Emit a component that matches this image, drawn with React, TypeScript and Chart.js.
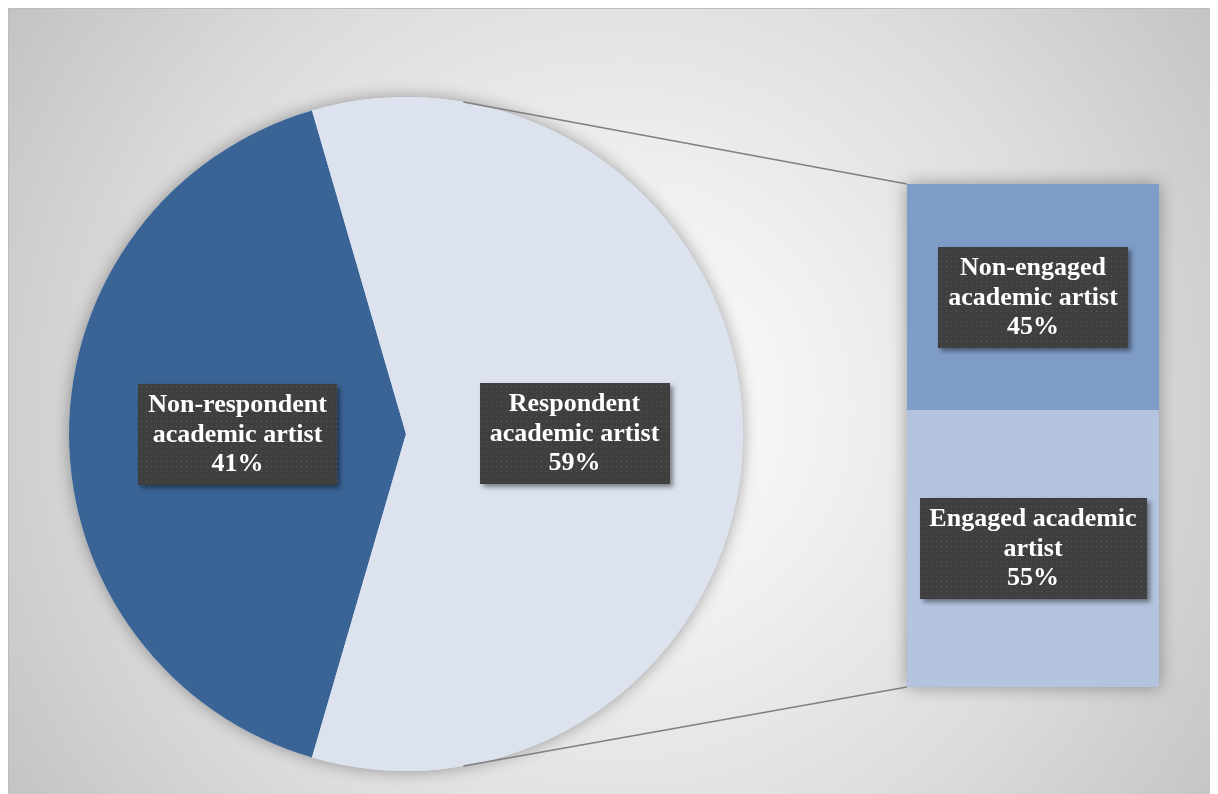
import React, { useEffect, useRef } from "react";
import { Chart, registerables } from "chart.js";
Chart.register(...registerables);

// ---- data ----
const pieCategories = ["Non-respondent academic artist", "Respondent academic artist"];
const pieValues = [41, 59];
const pieLabelLines = [["Non-respondent", "academic artist"], ["Respondent", "academic artist"]];

const barCategories = ["Engaged academic artist", "Non-engaged academic artist"];
const barValues = [55, 45];
const barLabelLines = [["Engaged academic", "artist"], ["Non-engaged", "academic artist"]];

// ---- styles ----
const pieColors = ["#3A6496", "#DCE2EE"];
const barColors = ["#B4C3DF", "#7F9CC8"];
const W = 1210;
const H = 786;
const FONT = "bold 26px 'Liberation Serif', 'Times New Roman', serif";
const LINE_H = 29.5;
const CONNECTOR_ANGLE = 80.2; // degrees above/below horizontal at which connector leaves pie

function makePattern(ctx: CanvasRenderingContext2D) {
  const c = document.createElement("canvas");
  c.width = 5;
  c.height = 5;
  const p = c.getContext("2d")!;
  p.fillStyle = "#3f3f3f";
  p.fillRect(0, 0, 5, 5);
  p.fillStyle = "#595959";
  p.fillRect(2, 2, 1, 1);
  return ctx.createPattern(c, "repeat")!;
}

function drawLabel(ctx: CanvasRenderingContext2D, cx: number, cy: number, lines: string[]) {
  ctx.save();
  ctx.font = FONT;
  const w = Math.round(Math.max(...lines.map((l) => ctx.measureText(l).width)) + 20);
  const h = Math.round(lines.length * LINE_H + 12);
  const x = Math.round(cx - w / 2);
  const y = Math.round(cy - h / 2);
  ctx.shadowColor = "rgba(0,0,0,0.45)";
  ctx.shadowBlur = 5;
  ctx.shadowOffsetX = 3;
  ctx.shadowOffsetY = 3;
  ctx.fillStyle = makePattern(ctx);
  ctx.fillRect(x, y, w, h);
  ctx.shadowColor = "transparent";
  ctx.shadowBlur = 0;
  ctx.shadowOffsetX = 0;
  ctx.shadowOffsetY = 0;
  ctx.fillStyle = "#ffffff";
  ctx.textAlign = "center";
  ctx.textBaseline = "middle";
  lines.forEach((l, i) => ctx.fillText(l, cx, y + 6 + LINE_H * (i + 0.5) + 1));
  ctx.restore();
}

export default function App() {
  const pieRef = useRef<HTMLCanvasElement>(null);
  const barRef = useRef<HTMLCanvasElement>(null);

  useEffect(() => {
    document.documentElement.style.overflow = "hidden";
    const total = pieValues.reduce((a, b) => a + b, 0);
    const firstShare = pieValues[0] / total;
    const rotation = 270 - (firstShare * 360) / 2;

    const pieShadow = {
      id: "pieShadow",
      beforeDatasetsDraw(chart: any) {
        const arc = chart.getDatasetMeta(0).data[0];
        const ctx = chart.ctx;
        ctx.save();
        ctx.shadowColor = "rgba(0,0,0,0.35)";
        ctx.shadowBlur = 16;
        ctx.fillStyle = pieColors[1];
        ctx.beginPath();
        ctx.arc(arc.x, arc.y, arc.outerRadius, 0, Math.PI * 2);
        ctx.fill();
        ctx.restore();
      },
      afterDatasetsDraw(chart: any) {
        const meta = chart.getDatasetMeta(0);
        meta.data.forEach((arc: any, i: number) => {
          const pos = arc.tooltipPosition();
          drawLabel(chart.ctx, pos.x, pos.y, [...pieLabelLines[i], `${pieValues[i]}%`]);
        });
      },
    };

    const pie = new Chart(pieRef.current!, {
      type: "pie",
      data: {
        labels: pieCategories,
        datasets: [
          {
            data: pieValues,
            backgroundColor: pieColors,
            borderWidth: 0,
            hoverOffset: 0,
          },
        ],
      },
      options: {
        responsive: false,
        animation: false,
        events: [],
        rotation,
        layout: { padding: { left: 60, top: 88, right: 476, bottom: 24 } },
        plugins: { legend: { display: false }, tooltip: { enabled: false } },
      },
      plugins: [pieShadow],
    });

    const barDecor = {
      id: "barDecor",
      beforeDatasetsDraw(chart: any) {
        const top = chart.getDatasetMeta(1).data[0];
        const bottom = chart.getDatasetMeta(0).data[0];
        const ctx = chart.ctx;
        ctx.save();
        ctx.shadowColor = "rgba(0,0,0,0.35)";
        ctx.shadowBlur = 16;
        ctx.fillStyle = barColors[0];
        ctx.fillRect(top.x - top.width / 2, top.y, top.width, bottom.base - top.y);
        ctx.restore();
      },
      afterDatasetsDraw(chart: any) {
        const ctx = chart.ctx;
        const topEl = chart.getDatasetMeta(1).data[0];
        const botEl = chart.getDatasetMeta(0).data[0];
        const left = topEl.x - topEl.width / 2;
        const arc = pie.getDatasetMeta(0).data[1] as any;
        const a = (CONNECTOR_ANGLE * Math.PI) / 180;
        const px = arc.x + arc.outerRadius * Math.cos(a);
        const pyTop = arc.y - arc.outerRadius * Math.sin(a);
        const pyBot = arc.y + arc.outerRadius * Math.sin(a);
        ctx.save();
        ctx.strokeStyle = "#7f7f7f";
        ctx.lineWidth = 1.5;
        ctx.beginPath();
        ctx.moveTo(px, pyTop);
        ctx.lineTo(left, topEl.y);
        ctx.moveTo(px, pyBot);
        ctx.lineTo(left, botEl.base);
        ctx.stroke();
        ctx.restore();
        chart.data.datasets.forEach((ds: any, i: number) => {
          const el = chart.getDatasetMeta(i).data[0];
          drawLabel(ctx, el.x, (el.y + el.base) / 2, [...barLabelLines[i], `${barValues[i]}%`]);
        });
      },
    };

    const bar = new Chart(barRef.current!, {
      type: "bar",
      data: {
        labels: ["Respondent academic artist"],
        datasets: barCategories.map((c, i) => ({
          label: c,
          data: [barValues[i]],
          backgroundColor: barColors[i],
          borderWidth: 0,
          barPercentage: 1,
          categoryPercentage: 1,
        })),
      },
      options: {
        responsive: false,
        animation: false,
        events: [],
        layout: { padding: { left: 898, top: 175, right: 60, bottom: 108 } },
        scales: {
          x: { stacked: true, display: false },
          y: { stacked: true, display: false, min: 0, max: 100 },
        },
        plugins: { legend: { display: false }, tooltip: { enabled: false } },
      },
      plugins: [barDecor],
    });

    return () => {
      bar.destroy();
      pie.destroy();
    };
  }, []);

  return (
    <div
      style={{
        position: "relative",
        width: W,
        height: H,
        borderLeft: "1px solid #bdbdbd",
        borderTop: "1px solid #bdbdbd",
        boxSizing: "border-box",
        background:
          "radial-gradient(circle 740px at 610px 400px, #ffffff 0%, #f0f0f0 30%, #dcdcdc 65%, #c2c2c2 100%)",
      }}
    >
      <canvas ref={pieRef} width={W} height={H} style={{ position: "absolute", left: 0, top: 0 }} />
      <canvas ref={barRef} width={W} height={H} style={{ position: "absolute", left: 0, top: 0 }} />
    </div>
  );
}
